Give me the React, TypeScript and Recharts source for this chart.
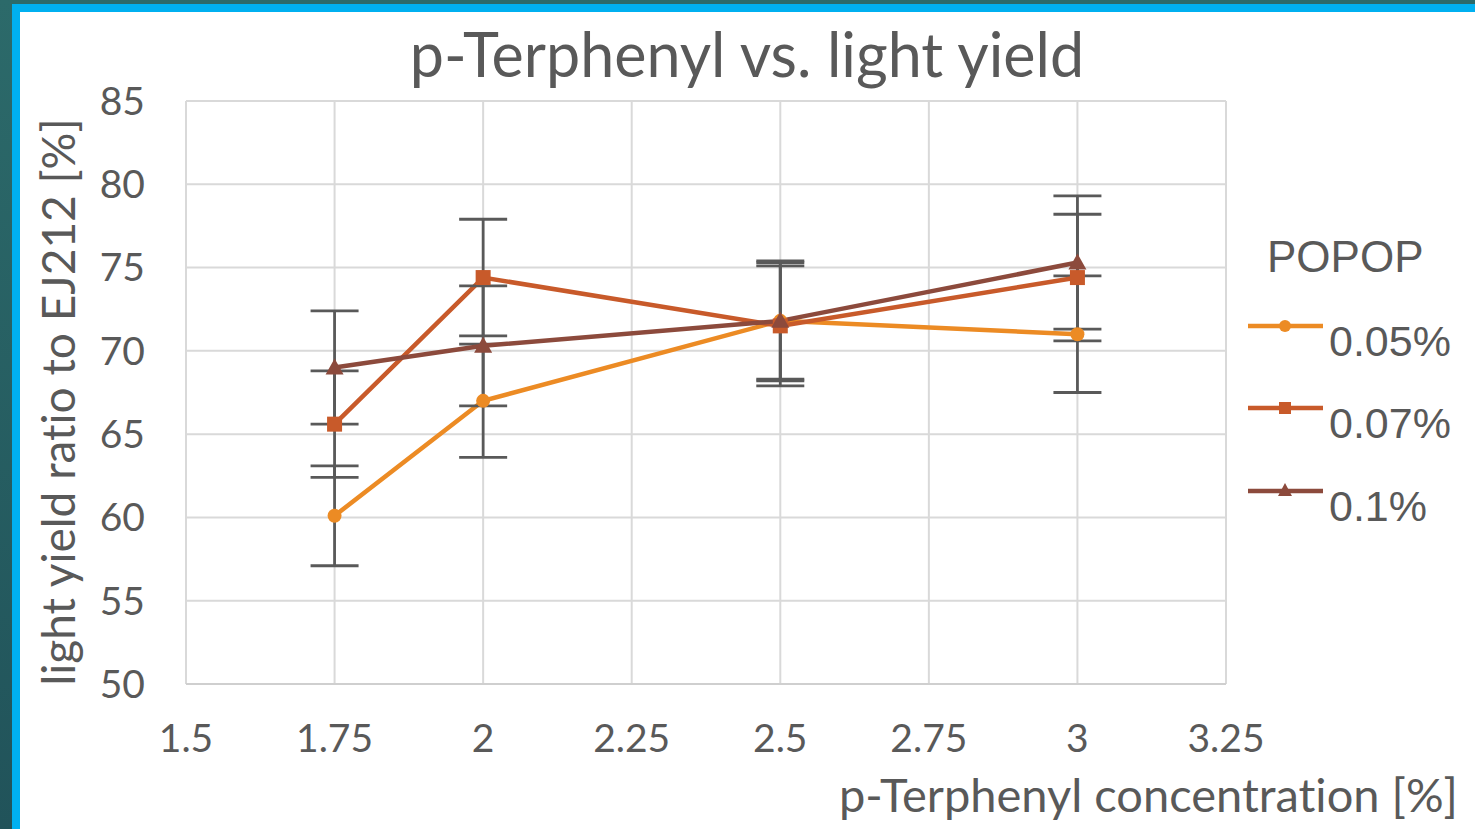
import {
  LineChart,
  Line,
  XAxis,
  YAxis,
  CartesianGrid,
  ErrorBar,
} from "recharts";

// p-Terphenyl concentration [%]
const concentrations = [1.75, 2, 2.5, 3];

// light yield ratio to EJ212 [%] per POPOP concentration
const popop005 = [60.1, 67.0, 71.8, 71.0];
const popop007 = [65.6, 74.4, 71.5, 74.4];
const popop010 = [69.0, 70.3, 71.8, 75.3];

// symmetric error bars
const err005 = [3.0, 3.4, 3.5, 3.5];
const err007 = [3.2, 3.5, 3.6, 3.8];
const err010 = [3.4, 3.6, 3.6, 4.0];

const xTicks = [1.5, 1.75, 2, 2.25, 2.5, 2.75, 3, 3.25];
const yTicks = [50, 55, 60, 65, 70, 75, 80, 85];

const seriesNames = ["0.05%", "0.07%", "0.1%"];
const seriesColors = ["#ec8b24", "#c85a2a", "#8c4a3c"];

const data = concentrations.map((x, i) => ({
  x,
  a: popop005[i],
  ea: err005[i],
  b: popop007[i],
  eb: err007[i],
  c: popop010[i],
  ec: err010[i],
}));

const TEXT = "#595959";
const CALIBRI = "Lato, 'Open Sans', sans-serif";
const ARIAL = "'Liberation Sans', Arial, sans-serif";
const noLigatures = { fontVariantLigatures: "none" as const };

const CircleDot = (p: any) => (
  <circle key={p.index} cx={p.cx} cy={p.cy} r={7} fill={seriesColors[0]} />
);
const SquareDot = (p: any) => (
  <rect key={p.index} x={p.cx - 7.5} y={p.cy - 7.5} width={15} height={15} fill={seriesColors[1]} />
);
const TriangleDot = (p: any) => (
  <polygon
    key={p.index}
    points={`${p.cx},${p.cy - 9} ${p.cx + 9},${p.cy + 7} ${p.cx - 9},${p.cy + 7}`}
    fill={seriesColors[2]}
  />
);

function marker(i: number, cx: number, cy: number) {
  if (i === 0) return <circle cx={cx} cy={cy} r={6} fill={seriesColors[0]} />;
  if (i === 1) return <rect x={cx - 6} y={cy - 6} width={12} height={12} fill={seriesColors[1]} />;
  return <polygon points={`${cx},${cy - 8} ${cx + 7},${cy + 5} ${cx - 7},${cy + 5}`} fill={seriesColors[2]} />;
}

// title + POPOP legend, drawn on top of the chart
function Overlay() {
  const rowY = [326, 408, 491];
  return (
    <svg
      width={1475}
      height={829}
      style={{ position: "absolute", left: 0, top: 0, pointerEvents: "none" }}
    >
      <text x={747} y={77} textAnchor="middle" fill={TEXT} fontSize={61} fontFamily={CALIBRI} style={noLigatures}>
        p-Terphenyl vs. light yield
      </text>
      <text x={1267} y={272} fill={TEXT} fontSize={44} fontFamily={ARIAL}>
        POPOP
      </text>
      {seriesNames.map((name, i) => (
        <g key={name}>
          <line x1={1248} y1={rowY[i]} x2={1323} y2={rowY[i]} stroke={seriesColors[i]} strokeWidth={4.5} />
          {marker(i, 1285, rowY[i])}
          <text x={1329} y={rowY[i] + 30} fill={TEXT} fontSize={43} fontFamily={ARIAL}>
            {name}
          </text>
        </g>
      ))}
    </svg>
  );
}

export default function App() {
  return (
    <div
      style={{
        position: "absolute",
        left: 0,
        top: 0,
        width: 1475,
        height: 829,
        overflow: "hidden",
        background: "linear-gradient(180deg, #2c6a6a 0%, #21535a 100%)",
      }}
    >
      <div
        style={{
          position: "absolute",
          left: 12,
          top: 4,
          width: 1475,
          height: 829,
          background: "#00b0f0",
        }}
      />
      <div
        style={{
          position: "absolute",
          left: 20,
          top: 12,
          width: 1475,
          height: 829,
          background: "#ffffff",
        }}
      />
      <div style={{ position: "absolute", left: 0, top: 0 }}>
        <LineChart
          width={1475}
          height={829}
          data={data}
          margin={{ top: 101, right: 249, left: 0, bottom: 0 }}
        >
          <CartesianGrid stroke="#d9d9d9" strokeWidth={2} />
          <XAxis
            dataKey="x"
            type="number"
            domain={[1.5, 3.25]}
            ticks={xTicks}
            interval={0}
            height={145}
            axisLine={{ stroke: "#cfcfcf", strokeWidth: 2 }}
            tickLine={false}
            tickSize={0}
            tickMargin={40}
            tick={{ fill: TEXT, fontSize: 39, fontFamily: CALIBRI }}
            label={{
              content: () => (
                <text
                  x={1458}
                  y={812}
                  textAnchor="end"
                  fill={TEXT}
                  fontSize={47}
                  fontFamily={CALIBRI}
                  style={noLigatures}
                >
                  p-Terphenyl concentration [%]
                </text>
              ),
            }}
          />
          <YAxis
            type="number"
            domain={[50, 85]}
            ticks={yTicks}
            interval={0}
            width={186}
            axisLine={false}
            tickLine={false}
            tickSize={0}
            tickMargin={41}
            tick={{ fill: TEXT, fontSize: 39, fontFamily: CALIBRI }}
            label={{
              content: () => (
                <text
                  x={75}
                  y={402}
                  transform="rotate(-90, 75, 402)"
                  textAnchor="middle"
                  fill={TEXT}
                  fontSize={46}
                  fontFamily={CALIBRI}
                  style={noLigatures}
                >
                  light yield ratio to EJ212 [%]
                </text>
              ),
            }}
          />
          <Line
            dataKey="a"
            name={seriesNames[0]}
            stroke={seriesColors[0]}
            strokeWidth={4.5}
            dot={CircleDot}
            activeDot={false}
            isAnimationActive={false}
          >
            <ErrorBar dataKey="ea" width={24} strokeWidth={2.8} stroke="#595959" direction="y" />
          </Line>
          <Line
            dataKey="b"
            name={seriesNames[1]}
            stroke={seriesColors[1]}
            strokeWidth={4.5}
            dot={SquareDot}
            activeDot={false}
            isAnimationActive={false}
          >
            <ErrorBar dataKey="eb" width={24} strokeWidth={2.8} stroke="#595959" direction="y" />
          </Line>
          <Line
            dataKey="c"
            name={seriesNames[2]}
            stroke={seriesColors[2]}
            strokeWidth={4.5}
            dot={TriangleDot}
            activeDot={false}
            isAnimationActive={false}
          >
            <ErrorBar dataKey="ec" width={24} strokeWidth={2.8} stroke="#595959" direction="y" />
          </Line>
        </LineChart>
      </div>
      <Overlay />
    </div>
  );
}
